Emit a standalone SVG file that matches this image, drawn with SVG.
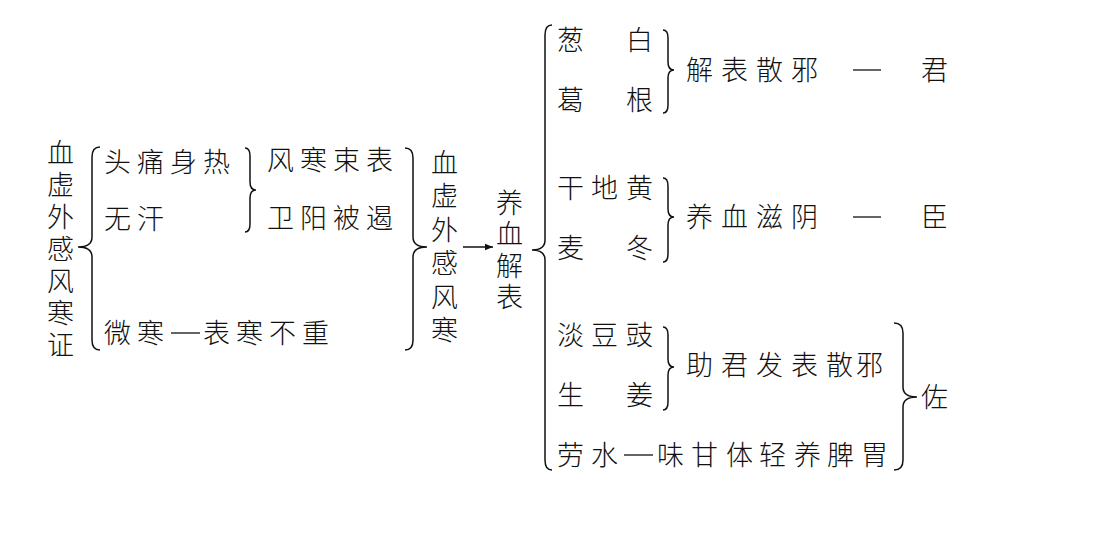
<svg xmlns="http://www.w3.org/2000/svg" width="1096" height="540" viewBox="0 0 1096 540">
<style>
text{font-family:"Noto Sans CJK SC","Noto Sans CJK JP",sans-serif;font-size:27px;fill:#111;font-weight:300}
.b{fill:none;stroke:#111;stroke-width:1.5}
.d{stroke:#111;stroke-width:1.3}
</style>
<defs><marker id="ah" viewBox="0 0 10 10" refX="10" refY="5" markerWidth="8" markerHeight="8" orient="auto" markerUnits="userSpaceOnUse"><path d="M0 1 L10 5 L0 9 Z" fill="#111"/></marker></defs>
<rect width="1096" height="540" fill="#fff"/>
<g id="left">
<text x="47" y="163">血</text><text x="47" y="195">虚</text><text x="47" y="227">外</text><text x="47" y="259">感</text><text x="47" y="291">风</text><text x="47" y="323">寒</text><text x="47" y="355">证</text>
</g>
<g id="symptoms">
<text x="104 137 170 203" y="172">头痛身热</text>
<text x="104 137" y="229">无汗</text>
<text x="104 137" y="343">微寒</text>
<line class="d" x1="171" y1="333" x2="200" y2="333"/>
<text x="203 236 269 302" y="343">表寒不重</text>
</g>
<g id="mech">
<text x="267 300 333 366" y="170">风寒束表</text>
<text x="267 300 333 366" y="228">卫阳被遏</text>
</g>
<g id="col2">
<text x="431" y="173">血</text><text x="431" y="206">虚</text><text x="431" y="240">外</text><text x="431" y="273">感</text><text x="431" y="307">风</text><text x="431" y="340">寒</text>
</g>
<g id="treat">
<text x="496" y="213">养</text><text x="496" y="244">血</text><text x="496" y="276">解</text><text x="496" y="307">表</text>
</g>
<g id="herbs">
<text x="557 626" y="50">葱白</text>
<text x="557 626" y="110">葛根</text>
<text x="557 591 626" y="198">干地黄</text>
<text x="557 626" y="258">麦冬</text>
<text x="557 591 626" y="345">淡豆豉</text>
<text x="557 626" y="405">生姜</text>
<text x="557 591" y="465">劳水</text>
<line class="d" x1="624" y1="455" x2="653" y2="455"/>
<text x="657 691 726 759 794 827 861" y="465">味甘体轻养脾胃</text>
</g>
<g id="roles">
<text x="686 721 756 791" y="80">解表散邪</text><line class="d" x1="853" y1="70" x2="881" y2="70"/><text x="921" y="80">君</text>
<text x="686 721 756 791" y="227">养血滋阴</text><line class="d" x1="853" y1="217" x2="881" y2="217"/><text x="921" y="227">臣</text>
<text x="686 721 756 791 826 856" y="375">助君发表散邪</text>
<text x="921" y="407">佐</text>
</g>
<g id="connectors">
<path class="b" d="M100 147 Q92 147 92 157 L92 237 Q92 247 78 247 Q92 247 92 257 L92 340 Q92 350 100 350"/>
<path class="b" d="M245 148 Q250 148 250 156 L250 182 Q250 190 256 190 Q250 190 250 198 L250 224 Q250 232 245 232"/>
<path class="b" d="M405 148 Q413 148 413 158 L413 237 Q413 247 427 247 Q413 247 413 257 L413 340 Q413 350 405 350"/>
<line x1="463" y1="247" x2="493" y2="247" stroke="#111" stroke-width="1.5" marker-end="url(#ah)"/>
<path class="b" d="M552 25 Q545 25 545 35 L545 240 Q545 250 532 250 Q545 250 545 260 L545 460 Q545 470 552 470"/>
<path class="b" d="M663 30 Q668 30 668 38 L668 62 Q668 70 674 70 Q668 70 668 78 L668 105 Q668 113 663 113"/>
<path class="b" d="M663 178 Q668 178 668 186 L668 209 Q668 217 674 217 Q668 217 668 225 L668 254 Q668 262 663 262"/>
<path class="b" d="M663 327 Q668 327 668 335 L668 359 Q668 367 674 367 Q668 367 668 375 L668 402 Q668 410 663 410"/>
<path class="b" d="M894 323 Q903 323 903 333 L903 387 Q903 397 917 397 Q903 397 903 407 L903 460 Q903 470 894 470"/>
</g>
</svg>
